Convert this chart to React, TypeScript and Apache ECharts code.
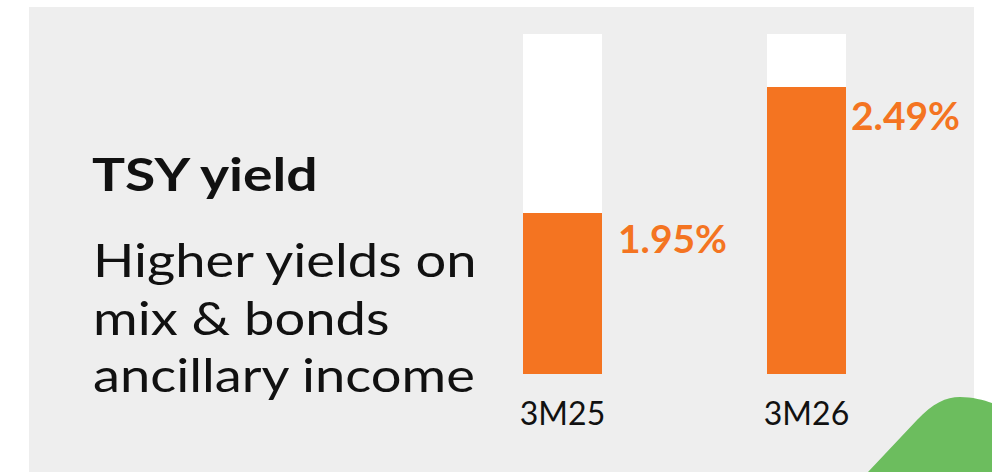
import React, { useEffect, useRef } from "react";
import * as echarts from "echarts";

const categories = ["3M25", "3M26"];
const yieldValues = [1.95, 2.49];
const titleText = "TSY yield";
const bodyLines = ["Higher yields on", "mix & bonds", "ancillary income"];

const ORANGE = "#f47421";
const GREEN = "#6cbd5e";

const greenPath =
  "M 868 472 L 917 420 C 933 403 946 397 960 397 C 972 397 984 400 992 403 L 992 472 Z";
echarts.graphic.registerShape("greenWave", echarts.graphic.extendPath(greenPath, {}) as any);

const labelPositions: [number, number][] = [
  [95, 25],
  [84, 28],
];

export default function App() {
  const ref = useRef<HTMLDivElement>(null);
  useEffect(() => {
    if (!ref.current) return;
    const chart = echarts.init(ref.current, undefined, { renderer: "svg" });
    const bodyGraphics = bodyLines.map((line, i) => ({
      type: "text",
      x: 93,
      y: 259.5 + i * 57.5,
      scaleX: 1.18,
      style: {
        text: line,
        fill: "#111",
        font: "400 46px Lato",
        align: "left",
        verticalAlign: "middle",
      },
    }));
    chart.setOption({
      animation: false,
      backgroundColor: "#ffffff",
      graphic: [
        {
          type: "rect",
          z: -10,
          shape: { x: 29, y: 7, width: 945, height: 465 },
          style: { fill: "#eeeeee" },
        },
        {
          type: "text",
          x: 92,
          y: 173,
          scaleX: 1.2,
          style: {
            text: titleText,
            fill: "#111",
            font: "700 46px Lato",
            align: "left",
            verticalAlign: "middle",
          },
        },
        ...bodyGraphics,
        {
          type: "greenWave",
          x: 0,
          y: 0,
          style: { fill: GREEN },
        },
      ],
      grid: { left: 440.5, right: 63.5, top: 34, bottom: 98 },
      xAxis: {
        type: "category",
        data: categories,
        axisLine: { show: false },
        axisTick: { show: false },
        axisLabel: {
          color: "#111",
          fontFamily: "Lato",
          fontSize: 32,
          margin: 22,
        },
      },
      yAxis: {
        type: "value",
        min: 1.26,
        max: 2.717,
        show: false,
        splitLine: { show: false },
      },
      series: [
        {
          type: "bar",
          barWidth: 79,
          showBackground: true,
          backgroundStyle: { color: "#ffffff" },
          itemStyle: { color: ORANGE },
          data: yieldValues.map((v, i) => ({
            value: v,
            label: {
              position: labelPositions[i],
              align: "left",
              verticalAlign: "middle",
            },
          })),
          label: {
            show: true,
            color: ORANGE,
            fontFamily: "Lato",
            fontWeight: 700,
            fontSize: 39,
            formatter: (p: any) => Number(p.value).toFixed(2) + "%",
          },
        },
      ],
    });
    return () => chart.dispose();
  }, []);
  return (
    <div
      ref={ref}
      style={{ position: "absolute", left: 0, top: 0, width: 992, height: 472 }}
    />
  );
}
